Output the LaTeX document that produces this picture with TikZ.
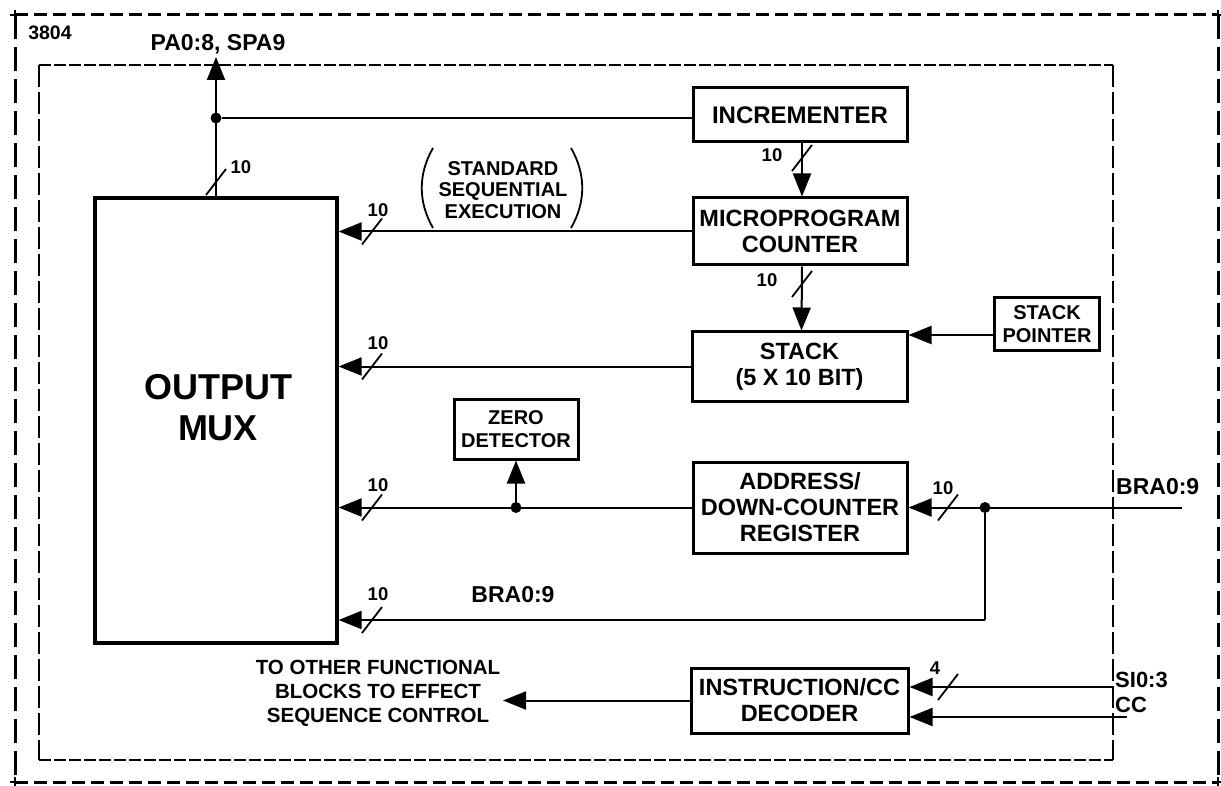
\documentclass[tikz,border=0pt]{standalone}
\usepackage{fontspec}
\setmainfont{Liberation Sans}
\usetikzlibrary{arrows.meta}
\begin{document}
\begin{tikzpicture}[x=1pt,y=-1pt,
  box/.style={draw, line width=3pt, inner sep=0pt, align=center, font=\bfseries\fontsize{23.5}{26}\selectfont},
  sbox/.style={draw, line width=3pt, inner sep=0pt, align=center, font=\bfseries\fontsize{20}{22.5}\selectfont},
  wire/.style={line width=2pt},
  arr/.style={line width=2pt, -{Triangle[length=23pt,width=18pt]}},
  lbl/.style={inner sep=0pt, font=\bfseries\fontsize{18.5}{20}\selectfont},
  big/.style={inner sep=0pt, font=\bfseries\fontsize{23}{26}\selectfont, align=center},
  note/.style={inner sep=0pt, font=\bfseries\fontsize{20.5}{24}\selectfont, align=center},
  dot/.style={circle, fill, inner sep=0pt, minimum size=11pt},
  bus/.pic={\draw[line width=1.8pt] (-10,13) -- (10,-13);},
  hout/.style={line width=3pt, dash pattern=on 13pt off 6pt},
  vout/.style={line width=3pt, dash pattern=on 24pt off 8pt},
  hin/.style={line width=1.8pt, dash pattern=on 12pt off 3pt},
  vin/.style={line width=1.8pt, dash pattern=on 22pt off 5pt}
]
\useasboundingbox (0,0) rectangle (1221,786);

% ---- borders ----
\draw[hout] (15,15) -- (1218,15);
\draw[hout] (15,782) -- (1218,782);
\draw[vout] (15,15) -- (15,782);
\draw[vout] (1218,15) -- (1218,782);
\foreach \cx/\cy in {15/15,1218/15,15/782,1218/782}{
  \draw[line width=2pt] (\cx-5,\cy) -- (\cx+5,\cy) (\cx,\cy-5) -- (\cx,\cy+5);
}
\draw[hin] (39,65) -- (1113,65);
\draw[hin] (39,760) -- (1113,760);
\draw[vin] (39,65) -- (39,760);
\draw[vin] (1113,65) -- (1113,760);

\node[lbl, font=\bfseries\fontsize{19.5}{22}\selectfont] (id) at (50,33) {3804};

% ---- blocks ----
\node[box, line width=3.2pt, minimum width=242pt, minimum height=445pt] (mux) at (216,420.5) {};
\node[inner sep=0pt, align=center, font=\bfseries\fontsize{36}{41}\selectfont] (muxt) at (218,408) {OUTPUT\\MUX};
\node[box, font=\bfseries\fontsize{24}{26}\selectfont, minimum width=214pt, minimum height=54pt] (inc) at (800,115) {INCREMENTER};
\node[box, minimum width=214pt, minimum height=67pt] (mpc) at (800,231.5) {MICROPROGRAM\\COUNTER};
\node[box, minimum width=215pt, minimum height=69pt] (stk) at (799.5,366.5) {STACK\\(5 X 10 BIT)};
\node[sbox, minimum width=105pt, minimum height=52pt] (sp) at (1047,324) {STACK\\POINTER};
\node[sbox, minimum width=124pt, minimum height=60pt] (zd) at (516,429) {ZERO\\DETECTOR};
\node[box, minimum width=214pt, minimum height=91pt] (adr) at (800,507.5) {ADDRESS/\\DOWN-COUNTER\\REGISTER};
\node[box, minimum width=217pt, minimum height=65pt] (dec) at (799.5,700.5) {INSTRUCTION/CC\\DECODER};

% ---- output bus ----
\coordinate (pa) at (216,57);
\draw[arr] (mux.north) -- (pa);
\node[big] (pal) at (218,44) {PA0:8, SPA9};
\node[dot] (j1) at (216,118) {};
\draw[wire] (j1) -- (j1 -| inc.west);
\pic at (216,182) {bus};
\node[lbl] (n1) at (241,167) {10};

% ---- incrementer -> MPC -> stack ----
\draw[arr] ([xshift=2pt]inc.south) -- ([xshift=2pt]mpc.north);
\pic at (802,158) {bus};
\node[lbl] (n2) at (772,155) {10};
\draw[arr] ([xshift=2pt]mpc.south) -- ([xshift=2pt]stk.north);
\pic at (802,284) {bus};
\node[lbl] (n3) at (767,280) {10};

% ---- MPC -> mux ----
\draw[arr] (mpc.west) -- (mpc.west -| mux.east);
\pic at (372,231.5) {bus};
\node[lbl] (n4) at (378,210) {10};
\node[note, font=\bfseries\fontsize{20}{21.5}\selectfont] (sse) at (503,190) {STANDARD\\SEQUENTIAL\\EXECUTION};
\draw[line width=1.8pt] (433,148) .. controls (418,174) and (418,202) .. (433,228);
\draw[line width=1.8pt] (571,148) .. controls (586,174) and (586,202) .. (571,228);

% ---- stack ----
\draw[arr] (stk.west) -- (stk.west -| mux.east);
\pic at (372,366.5) {bus};
\node[lbl] (n5) at (378,343) {10};
\coordinate (spo) at ([yshift=-11pt]sp.west);
\draw[arr] (spo) -- (spo -| stk.east);

% ---- address register ----
\draw[arr] (adr.west) -- (adr.west -| mux.east);
\pic at (372,507.5) {bus};
\node[lbl] (n6) at (378,485) {10};
\node[dot] (j2) at (adr.west -| zd.south) {};
\draw[arr] (j2) -- (zd.south);

\coordinate (bra) at (1182,507.5);
\draw[arr] (bra) -- (adr.east);
\node[dot] (j3) at (985,507.5) {};
\pic at (948,507.5) {bus};
\node[lbl] (n7) at (943,488) {10};
\node[big, anchor=west] (bral) at (1116,487) {BRA0:9};

\coordinate (c1) at (985,620);
\draw[wire] (j3) -- (c1);
\draw[arr] (c1) -- (c1 -| mux.east);
\pic at (372,620) {bus};
\node[lbl] (n8) at (378,594) {10};
\node[big] (bral2) at (513,595) {BRA0:9};

% ---- decoder ----
\coordinate (oth) at (503,700.5);
\draw[arr] (dec.west) -- (oth);
\node[note] (othl) at (378,693) {TO OTHER FUNCTIONAL\\BLOCKS TO EFFECT\\SEQUENCE CONTROL};
\coordinate (si) at (1113,687);
\draw[arr] (si) -- (si -| dec.east);
\pic at (948,687) {bus};
\node[lbl] (n9) at (935,668) {4};
\coordinate (cc) at (1127,717);
\draw[arr] (cc) -- (cc -| dec.east);
\node[big, anchor=west, font=\bfseries\fontsize{22}{24}\selectfont] (sil) at (1115,680) {SI0:3};
\node[big, anchor=west, font=\bfseries\fontsize{22}{24}\selectfont] (ccl) at (1115,705) {CC};
\end{tikzpicture}
\end{document}
